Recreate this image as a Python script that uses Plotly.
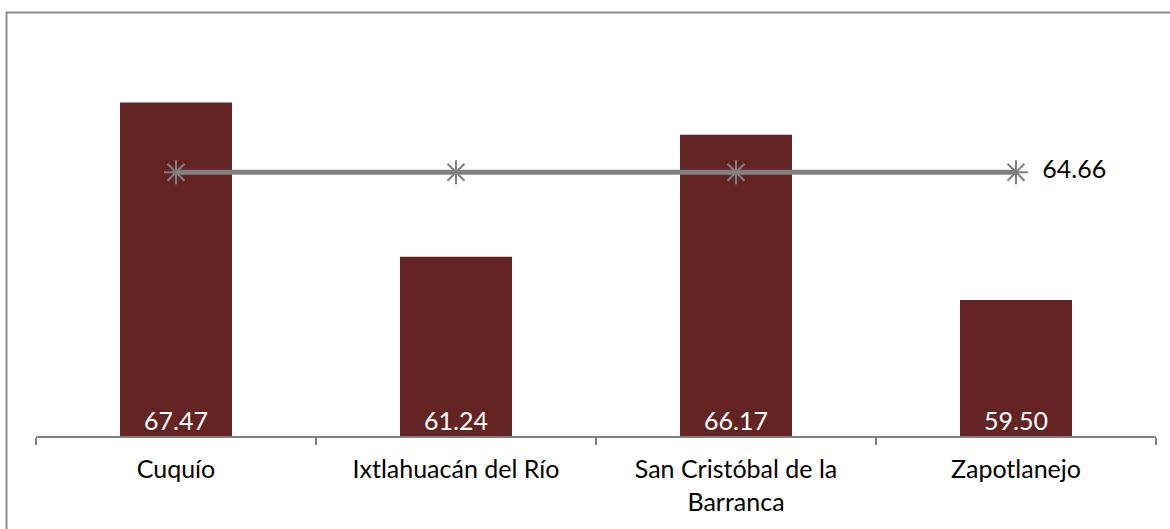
import plotly.graph_objects as go

categories = ["Cuquío", "Ixtlahuacán del Río", "San Cristóbal de la<br>Barranca", "Zapotlanejo"]
values = [67.47, 61.24, 66.17, 59.50]
average = [64.66, 64.66, 64.66, 64.66]
value_labels = ["67.47", "61.24", "66.17", "59.50"]
average_labels = ["", "", "", "64.66"]
y_range = [54, 70]

FONT = "Lato"
BAR = "#632423"
GREY = "#808080"
FS = 25

fig = go.Figure()
fig.add_trace(go.Bar(
    x=categories, y=values, marker=dict(color=BAR, line=dict(width=0)),
    showlegend=False, hoverinfo="skip",
))
# value labels at the base of each bar
fig.add_trace(go.Scatter(
    x=categories, y=[y_range[0]] * len(categories), mode="text",
    text=value_labels, textposition="top center",
    textfont=dict(color="white", size=FS, family=FONT),
    cliponaxis=False, showlegend=False, hoverinfo="skip",
))
fig.add_trace(go.Scatter(
    x=categories, y=average, mode="lines+markers+text",
    line=dict(color=GREY, width=5),
    marker=dict(symbol="asterisk-open", size=20, color=GREY, line=dict(color=GREY, width=2)),
    text=["  " + t if t else "" for t in average_labels], textposition="middle right",
    textfont=dict(color="black", size=FS, family=FONT),
    cliponaxis=False, showlegend=False, hoverinfo="skip",
))

W, H = 1170, 529
L, R, T, B = 36, 14, 40, 93
pw, ph = W - L - R, H - T - B

fig.update_layout(
    width=W, height=H,
    margin=dict(l=L, r=R, t=T, b=B, autoexpand=False),
    paper_bgcolor="white", plot_bgcolor="white",
    bargap=0.6,
    font=dict(family=FONT, size=FS, color="black"),
    xaxis=dict(
        showline=True, linecolor=GREY, linewidth=2,
        ticks="outside", tickson="boundaries", ticklen=7, tickcolor=GREY, tickwidth=2,
        ticklabelstandoff=10,
        showgrid=False, zeroline=False, tickfont=dict(size=FS, family=FONT, color="black"),
    ),
    yaxis=dict(range=y_range, visible=False, showgrid=False, zeroline=False),
    shapes=[dict(
        type="rect", xref="paper", yref="paper",
        x0=(6.5 - L) / pw, x1=(W + 10 - L) / pw,
        y0=-(B + 20) / ph, y1=(ph + T - 12.5) / ph,
        line=dict(color="#8c8c8c", width=2), fillcolor="rgba(0,0,0,0)", layer="below",
    )],
)

fig.write_html(
    "out.html",
    config={"displayModeBar": False},
    post_script="document.body.style.margin='0';document.body.style.overflow='hidden';",
)
